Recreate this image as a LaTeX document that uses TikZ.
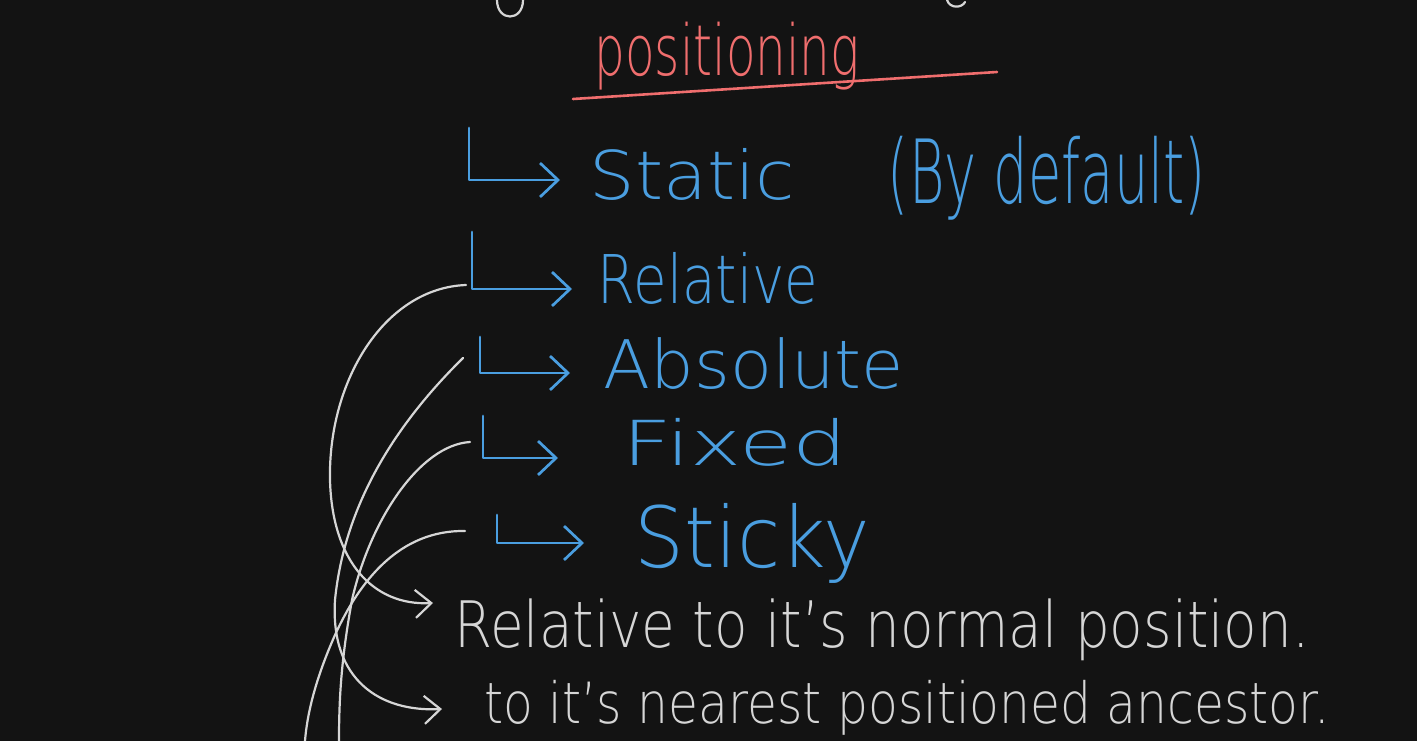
\documentclass[tikz,border=0pt]{standalone}
\usepackage{fontspec}
\setmainfont{DejaVu Sans ExtraLight}
\usetikzlibrary{arrows.meta}
\definecolor{bg}{HTML}{131313}
\definecolor{penred}{HTML}{F06E6E}
\definecolor{penblue}{HTML}{4A9EE0}
\definecolor{pengray}{HTML}{D6D6D6}
\newcommand{\fitbox}[3]{\resizebox*{#1}{#2}{#3}}
\tikzset{
  txt/.style={inner sep=0pt, anchor=center},
  bluelink/.style={draw=penblue, line width=2.7pt, line cap=round, line join=round,
    -{Straight Barb[length=18pt,width=34pt,line width=2.7pt]}},
  graylink/.style={draw=pengray, line width=2.2pt, line cap=round,
    -{Straight Barb[length=16pt,width=28pt,line width=2.2pt]}},
  grayline/.style={draw=pengray, line width=2.2pt, line cap=round},
}
\begin{document}
\begin{tikzpicture}[x=1pt,y=-1pt]
\fill[bg] (0,0) rectangle (1417,741);
\useasboundingbox (0,0) rectangle (1417,741);

% partial letters at top edge
\draw[grayline] (497,0) .. controls (497,22) and (523,22) .. (523,0);
\draw[grayline] (947,0) .. controls (950,9) and (962,8) .. (965,2);

% title
\node[txt, text=penred] (title) at (727,56) {\fitbox{265pt}{68pt}{positioning}};
\coordinate (ulA) at (573,99);
\coordinate (ulB) at (997,72);
\draw[draw=penred, line width=2.6pt, line cap=round] (ulA) -- (ulB);

% list items
\node[txt, text=penblue] (static) at (692,174) {\fitbox{205pt}{52pt}{Static}};
\node[txt, text=penblue] (default) at (1047,178) {\fitbox{318pt}{84pt}{(By default)}};
\node[txt, text=penblue] (relative) at (708,278) {\fitbox{220pt}{52pt}{Relative}};
\node[txt, text=penblue] (absolute) at (754,364) {\fitbox{300pt}{52pt}{Absolute}};
\node[txt, text=penblue] (fixed) at (735,442) {\fitbox{224pt}{48pt}{Fixed}};
\node[txt, text=penblue] (sticky) at (752,543) {\fitbox{235pt}{80pt}{Sticky}};

% L-shaped arrows
\coordinate (s1) at (469,128); \coordinate (e1) at (560,180);
\coordinate (s2) at (472,232); \coordinate (e2) at (572,289);
\coordinate (s3) at (480,337); \coordinate (e3) at (570,373);
\coordinate (s4) at (483,416); \coordinate (e4) at (558,458);
\coordinate (s5) at (497,515); \coordinate (e5) at (584,543);
\draw[bluelink] (s1) |- (e1);
\draw[bluelink] (s2) |- (e2);
\draw[bluelink] (s3) |- (e3);
\draw[bluelink] (s4) |- (e4);
\draw[bluelink] (s5) |- (e5);

% explanations
\node[txt, text=pengray] (expl1) at (882,630) {\fitbox{855pt}{62pt}{Relative to it's normal position.}};
\node[txt, text=pengray] (expl2) at (907,708) {\fitbox{845pt}{55pt}{to it's nearest positioned ancestor.}};

% gray connectors
\coordinate (g1) at (466,285);
\coordinate (g2) at (463,358);
\coordinate (g3) at (470,442);
\coordinate (g4) at (465,531);
\coordinate (t1) at (433,603);
\coordinate (t2) at (442,709);
\coordinate (b3) at (339,741);
\coordinate (b4) at (305,741);
\draw[graylink] (g1) .. controls (385,288) and (328,380) .. (330,480)
  .. controls (332,560) and (372,606) .. (t1);
\draw[graylink] (g2) .. controls (400,420) and (345,500) .. (335,600)
  .. controls (330,680) and (380,712) .. (t2);
\draw[grayline] (g3) .. controls (420,445) and (370,520) .. (352,600)
  .. controls (341,660) and (339,700) .. (b3);
\draw[grayline] (g4) .. controls (400,530) and (360,580) .. (335,635)
  .. controls (315,680) and (307,715) .. (b4);
\end{tikzpicture}
\end{document}
